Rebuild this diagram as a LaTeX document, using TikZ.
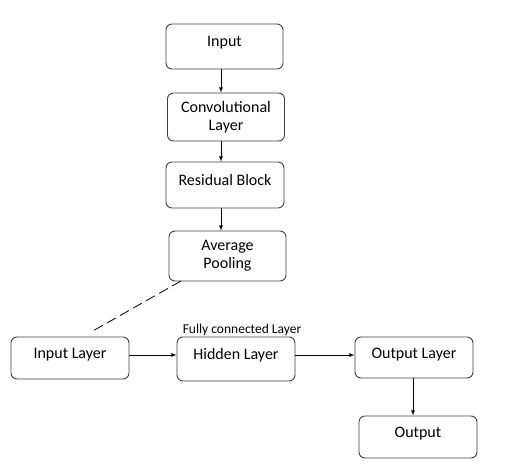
\documentclass[tikz,border=0pt]{standalone}
\usepackage{fontspec}
\setmainfont{Carlito}
\begin{document}
\begin{tikzpicture}
    [
        x=1pt, y=-1pt,
        block/.style={draw=black!75, line width=0.9pt, rounded corners=6pt,
            minimum width=117pt, minimum height=45pt, align=center,
            font=\fontsize{16}{18}\selectfont},
        oneline/.style={text height=11pt, text depth=10pt},
        edge/.style={-latex, line width=0.8pt,},
    ]
    \useasboundingbox (0,0) rectangle (505,470);

    % feature extraction
    \node (in)   at (224.5,46.5) [block, oneline] {Input};
    \node (conv) at (226,117)    [block, minimum height=48pt] {Convolutional\\Layer};
    \node (res)  at (225,185)    [block, oneline, minimum width=118pt, minimum height=46pt] {Residual Block};
    \node (pool) at (227.5,256)  [block, minimum height=50pt] {Average\\Pooling};
    \coordinate (spine) at (221,0);
    \draw [edge] (in.south -| spine) -- (conv.north -| spine);
    \draw [edge] (conv.south -| spine) -- (res.north -| spine);
    \draw [edge] (res.south -| spine) -- (pool.north -| spine);

    % fully connected part
    \node (il)  at (70,358)    [block, oneline, minimum width=118pt, minimum height=42pt] {Input Layer};
    \node (hl)  at (236,359)   [block, oneline, minimum width=118pt, minimum height=44pt] {Hidden Layer};
    \node (ol)  at (414,357.5) [block, oneline, minimum width=118pt, minimum height=41pt] {Output Layer};
    \node (out) at (418,437)   [block, oneline, minimum width=118pt, minimum height=42pt] {Output};
    \node (fc)  at (242,330)   [font=\fontsize{13.5}{15}\selectfont] {Fully connected Layer};
    \coordinate (row) at (0,355);
    \coordinate (drop) at (413,0);
    \draw [edge] (il.east |- row) -- (hl.west |- row);
    \draw [edge] (hl.east |- row) -- (ol.west |- row);
    \draw [edge] (ol.south -| drop) -- (out.north -| drop);

    \coordinate (d1) at (181,281);
    \coordinate (d2) at (91,332);
    \draw [dash pattern=on 10pt off 5pt, line width=0.8pt] (d1) -- (d2);
\end{tikzpicture}
\end{document}
